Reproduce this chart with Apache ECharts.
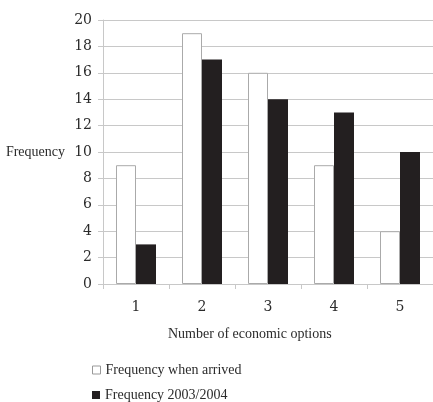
<!DOCTYPE html>
<html>
<head>
<meta charset="utf-8">
<script src="https://cdn.jsdelivr.net/npm/echarts@6/dist/echarts.min.js"></script>
<style>html,body{margin:0;padding:0;background:#fff;}#c{width:433px;height:402px;}</style>
</head>
<body>
<div id="c"></div>
<script>
var categories = ['1', '2', '3', '4', '5'];
var arrived = [9, 19, 16, 9, 4];
var recent = [3, 17, 14, 13, 10];
var seriesNames = ['Frequency when arrived', 'Frequency 2003/2004'];
var xTitle = 'Number of economic options';
var yTitle = 'Frequency';

var font = 'Liberation Serif';
var numFont = 'DejaVu Serif';
var txt = '#2b2b2b';
var gridC = '#c8c8c8';
var legendText = { fontFamily: font, fontSize: 14, color: txt };
var chart = echarts.init(document.getElementById('c'));
chart.setOption({
  animation: false,
  backgroundColor: '#fff',
  grid: { left: 103, right: -7, top: 20, bottom: 118, containLabel: false },
  legend: [{
    left: 87, top: 358, itemWidth: 8, itemHeight: 8, textStyle: legendText,
    data: [{ name: seriesNames[0], icon: 'rect', itemStyle: { color: '#fff', borderColor: '#999', borderWidth: 1 } }]
  }, {
    left: 87, top: 383, itemWidth: 8, itemHeight: 8, textStyle: legendText,
    data: [{ name: seriesNames[1], icon: 'rect', itemStyle: { color: '#231f20' } }]
  }],
  xAxis: {
    type: 'category', data: categories,
    axisLine: { lineStyle: { color: gridC } },
    axisTick: { show: true, length: 5, lineStyle: { color: gridC } },
    axisLabel: { fontFamily: numFont, fontSize: 14, color: txt, margin: 16 }
  },
  yAxis: {
    type: 'value', min: 0, max: 20, interval: 2,
    name: yTitle, nameLocation: 'middle', nameRotate: 0, nameGap: 38,
    nameTextStyle: { fontFamily: font, fontSize: 14, color: txt },
    axisLine: { show: true, lineStyle: { color: gridC } },
    axisTick: { show: true, length: 5, lineStyle: { color: gridC } },
    splitLine: { lineStyle: { color: gridC } },
    axisLabel: { fontFamily: numFont, fontSize: 14, color: txt, margin: 11 }
  },
  graphic: [{
    type: 'text', left: 168, top: 327,
    style: { text: xTitle, fontFamily: font, fontSize: 14, fill: txt }
  }],
  series: [
    { name: seriesNames[0], type: 'bar', data: arrived, barWidth: 20, barGap: '0%',
      itemStyle: { color: '#fff', borderColor: '#aaa', borderWidth: 1 } },
    { name: seriesNames[1], type: 'bar', data: recent, barWidth: 20, barGap: '0%',
      itemStyle: { color: '#231f20' } }
  ]
});
</script>
</body>
</html>
